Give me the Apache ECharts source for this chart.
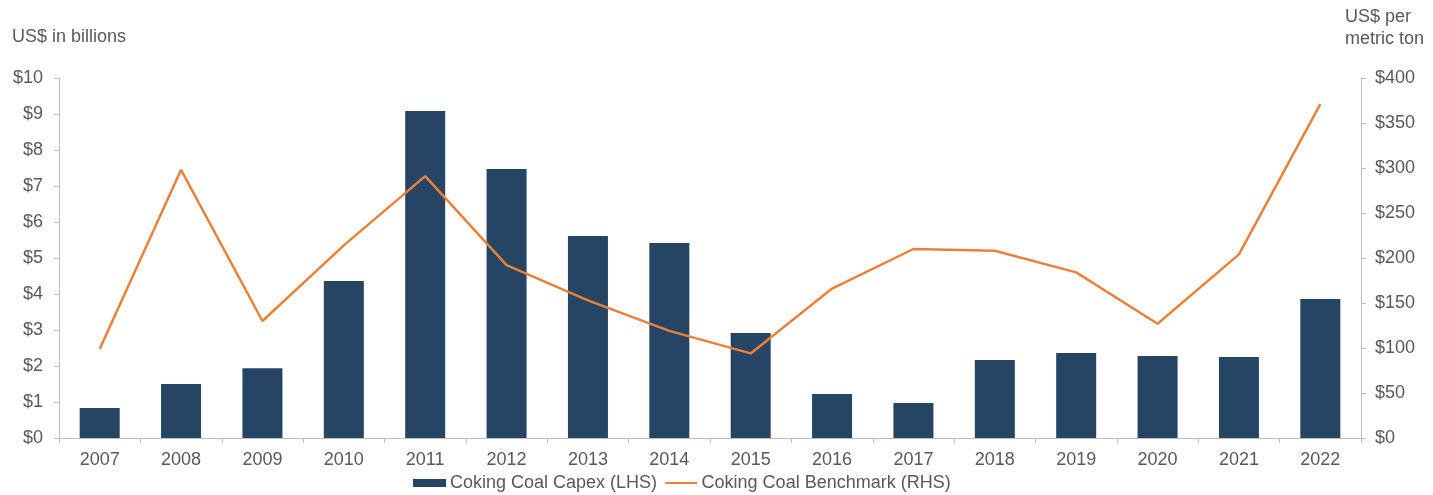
<!DOCTYPE html>
<html>
<head>
<meta charset="utf-8">
<script src="https://cdn.jsdelivr.net/npm/echarts@6/dist/echarts.min.js"></script>
<style>
  html, body { margin: 0; padding: 0; background: #fff; }
  #chart { width: 1433px; height: 495px; }
</style>
</head>
<body>
<div id="chart"></div>
<script>
// Years on the category axis
const years = ['2007','2008','2009','2010','2011','2012','2013','2014','2015','2016','2017','2018','2019','2020','2021','2022'];
// Coking coal capex, US$ billions (left axis)
const capex = [0.83, 1.5, 1.94, 4.36, 9.08, 7.47, 5.61, 5.42, 2.92, 1.22, 0.97, 2.17, 2.36, 2.28, 2.25, 3.86];
// Coking coal benchmark price, US$ per metric ton (right axis)
const benchmark = [99, 298, 130, 214, 291, 192, 153, 119, 94, 166, 210, 208, 184, 127, 204, 371];

const textColor = '#595959';
const axisColor = '#BFBFBF';
const barColor = '#264464';
const lineColor = '#E8823A';
const font = 'Liberation Sans, Arial, sans-serif';

// thin horizontal stroke for the line series' legend key (extra moveTo points pad the box)
const lineKey = 'path://M0,0 M0,12 M0,4.9 L32,4.9 L32,7.1 L0,7.1 Z';

const chart = echarts.init(document.getElementById('chart'));
chart.setOption({
  animation: false,
  textStyle: { fontFamily: font },
  graphic: [
    { type: 'text', left: 12, top: 28, style: { text: 'US$ in billions', fill: textColor, font: '18px ' + font } },
    { type: 'text', left: 1345, top: 6, style: { text: 'US$ per\nmetric ton', fill: textColor, font: '18px ' + font, lineHeight: 22 } }
  ],
  grid: { left: 59, right: 72, top: 78, bottom: 57 },
  legend: {
    top: 469,
    left: 408,
    itemGap: 8,
    itemWidth: 33,
    itemHeight: 12,
    textStyle: { color: textColor, fontSize: 18, fontFamily: font, padding: [0, 0, 0, -1] },
    data: [
      { name: 'Coking Coal Capex (LHS)', icon: 'path://M0,0 M0,12 M0,2 L33,2 L33,10 L0,10 Z' },
      { name: 'Coking Coal Benchmark (RHS)', icon: lineKey }
    ]
  },
  xAxis: {
    type: 'category',
    data: years,
    axisLine: { lineStyle: { color: axisColor } },
    axisTick: { show: true, length: 5, lineStyle: { color: axisColor } },
    axisLabel: { color: textColor, fontSize: 18, margin: 13 }
  },
  yAxis: [
    {
      type: 'value', min: 0, max: 10, interval: 1,
      splitLine: { show: false },
      axisLine: { show: true, lineStyle: { color: axisColor } },
      axisTick: { show: true, length: 5, lineStyle: { color: axisColor } },
      axisLabel: { color: textColor, fontSize: 18, margin: 16, formatter: v => '$' + v }
    },
    {
      type: 'value', min: 0, max: 400, interval: 50,
      splitLine: { show: false },
      axisLine: { show: true, lineStyle: { color: axisColor } },
      axisTick: { show: true, length: 5, lineStyle: { color: axisColor } },
      axisLabel: { color: textColor, fontSize: 18, margin: 14, formatter: v => '$' + v }
    }
  ],
  series: [
    {
      name: 'Coking Coal Capex (LHS)',
      type: 'bar',
      yAxisIndex: 0,
      barWidth: 40,
      itemStyle: { color: barColor },
      data: capex
    },
    {
      name: 'Coking Coal Benchmark (RHS)',
      type: 'line',
      yAxisIndex: 1,
      symbol: 'none',
      lineStyle: { color: lineColor, width: 2.5 },
      itemStyle: { color: lineColor },
      data: benchmark
    }
  ]
});
</script>
</body>
</html>
